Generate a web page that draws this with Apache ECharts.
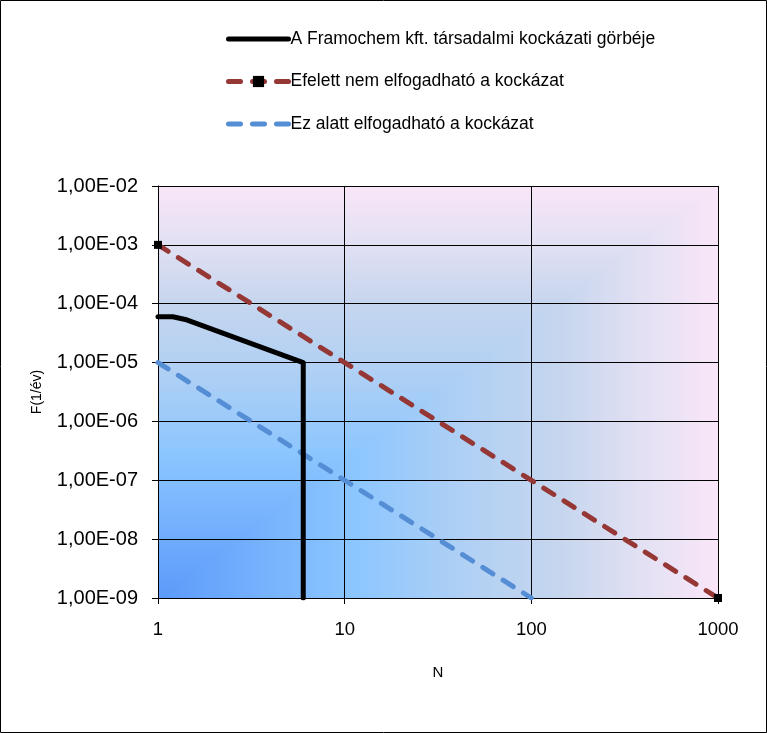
<!DOCTYPE html>
<html>
<head>
<meta charset="utf-8">
<script src="https://cdn.jsdelivr.net/npm/echarts@6/dist/echarts.min.js"></script>
<style>
html,body{margin:0;padding:0;background:#fff;}
#chart{width:767px;height:733px;}
</style>
</head>
<body>
<div id="chart"></div>
<script>
// ---- data ----
const seriesNames = [
  'A Framochem kft. társadalmi kockázati görbéje',
  'Efelett nem elfogadható a kockázat',
  'Ez alatt elfogadható a kockázat'
];
const companyN = [1, 1.2, 1.4, 6, 6];
const companyF = [6e-5, 6e-5, 5.4e-5, 1e-5, 1e-9];
const upperN = [1, 1000];
const upperF = [1e-3, 1e-9];
const lowerN = [1, 100];
const lowerF = [1e-5, 1e-9];
const xTicks = [1, 10, 100, 1000];
const yTicks = [1e-9, 1e-8, 1e-7, 1e-6, 1e-5, 1e-4, 1e-3, 1e-2];

const zip = (a, b) => a.map((v, i) => [v, b[i]]);

const gradStops = [
  {offset: 0, color: '#5c9afa'},
  {offset: 0.35, color: '#8cc6ff'},
  {offset: 0.55, color: '#b0d0f4'},
  {offset: 0.72, color: '#c6d6ee'},
  {offset: 0.86, color: '#e2e0f3'},
  {offset: 1, color: '#f9e6f8'}
];

function fmtY(v) {
  const e = Math.round(Math.log10(v));
  const s = e < 0 ? '-' : '+';
  const a = Math.abs(e);
  return '1,00E' + s + (a < 10 ? '0' + a : a);
}

const chart = echarts.init(document.getElementById('chart'), null, {renderer: 'canvas'});
const font = 'Liberation Sans, Arial, sans-serif';

chart.setOption({
  animation: false,
  backgroundColor: '#fff',
  textStyle: {fontFamily: font},
  graphic: [{
    type: 'rect', z: 100, silent: true,
    shape: {x: 0.5, y: 0.5, width: 766, height: 732},
    style: {fill: 'none', stroke: '#000', lineWidth: 1}
  }],
  legend: {
    orient: 'vertical',
    left: 221, top: 24,
    itemWidth: 60, itemHeight: 14,
    itemGap: 22.5,
    lineStyle: {width: 5},
    data: [
      {name: seriesNames[0], itemStyle: {opacity: 0}},
      {name: seriesNames[1]},
      {name: seriesNames[2], itemStyle: {opacity: 0}}
    ],
    textStyle: {fontSize: 17.5, color: '#000', fontFamily: font, padding: [0, 0, 0, -3], lineHeight: 20}
  },
  grid: {left: 158, top: 186, right: 49, bottom: 135, containLabel: false, outerBoundsMode: 'none'},
  xAxis: {
    type: 'log', logBase: 10, min: 1, max: 1000,
    name: 'N', nameLocation: 'middle', nameGap: 67,
    nameTextStyle: {fontSize: 15, color: '#000', fontFamily: font},
    axisLine: {show: true, lineStyle: {color: '#000', width: 1}},
    axisTick: {show: true, length: 6, lineStyle: {color: '#000'}},
    axisLabel: {color: '#000', fontSize: 18.5, margin: 22, fontFamily: font,
      formatter: v => String(Math.round(v))},
    splitLine: {show: true, lineStyle: {color: '#000', width: 1}},
    minorTick: {show: false}, minorSplitLine: {show: false}
  },
  yAxis: {
    type: 'log', logBase: 10, min: 1e-9, max: 1e-2,
    name: 'F(1/év)', nameLocation: 'middle', nameGap: 114, nameRotate: 90,
    nameTextStyle: {fontSize: 14, color: '#000', fontFamily: font},
    axisLine: {show: true, lineStyle: {color: '#000', width: 1}},
    axisTick: {show: true, length: 6, lineStyle: {color: '#000'}},
    axisLabel: {color: '#000', fontSize: 20, margin: 20, fontFamily: font, formatter: fmtY},
    splitLine: {show: true, lineStyle: {color: '#000', width: 1}},
    minorTick: {show: false}, minorSplitLine: {show: false}
  },
  series: [
    {
      type: 'custom', name: 'bg', silent: true, z: -1,
      data: [[xTicks[0], yTicks[0]]],
      renderItem: function (params, api) {
        const tl = api.coord([xTicks[0], yTicks[yTicks.length - 1]]);
        const br = api.coord([xTicks[xTicks.length - 1], yTicks[0]]);
        const bl = [tl[0], br[1]];
        const tr = [br[0], tl[1]];
        return {
          type: 'group',
          children: [
            {
              type: 'rect',
              shape: {x: tl[0], y: tl[1], width: br[0] - tl[0], height: br[1] - tl[1]},
              style: {fill: new echarts.graphic.LinearGradient(0, 1, 0, 0, gradStops)}
            },
            {
              type: 'polygon',
              shape: {points: [bl, [br[0], br[1]], tr]},
              style: {fill: new echarts.graphic.LinearGradient(0, 0, 1, 0, gradStops)}
            }
          ]
        };
      }
    },
    {
      name: seriesNames[0], type: 'line', data: zip(companyN, companyF),
      symbol: 'none',
      itemStyle: {color: '#000'},
      lineStyle: {color: '#000', width: 5, cap: 'round', join: 'round'},
      z: 4
    },
    {
      name: seriesNames[1], type: 'line', data: zip(upperN, upperF),
      symbol: 'rect', symbolSize: 8, showSymbol: true,
      itemStyle: {color: '#000'},
      lineStyle: {color: '#953735', width: 5, type: [12, 12], cap: 'round'},
      z: 3
    },
    {
      name: seriesNames[2], type: 'line', data: zip(lowerN, lowerF),
      symbol: 'none',
      itemStyle: {color: '#558ed5'},
      lineStyle: {color: '#558ed5', width: 5, type: [12, 12], cap: 'round'},
      z: 3
    }
  ]
});
</script>
</body>
</html>
